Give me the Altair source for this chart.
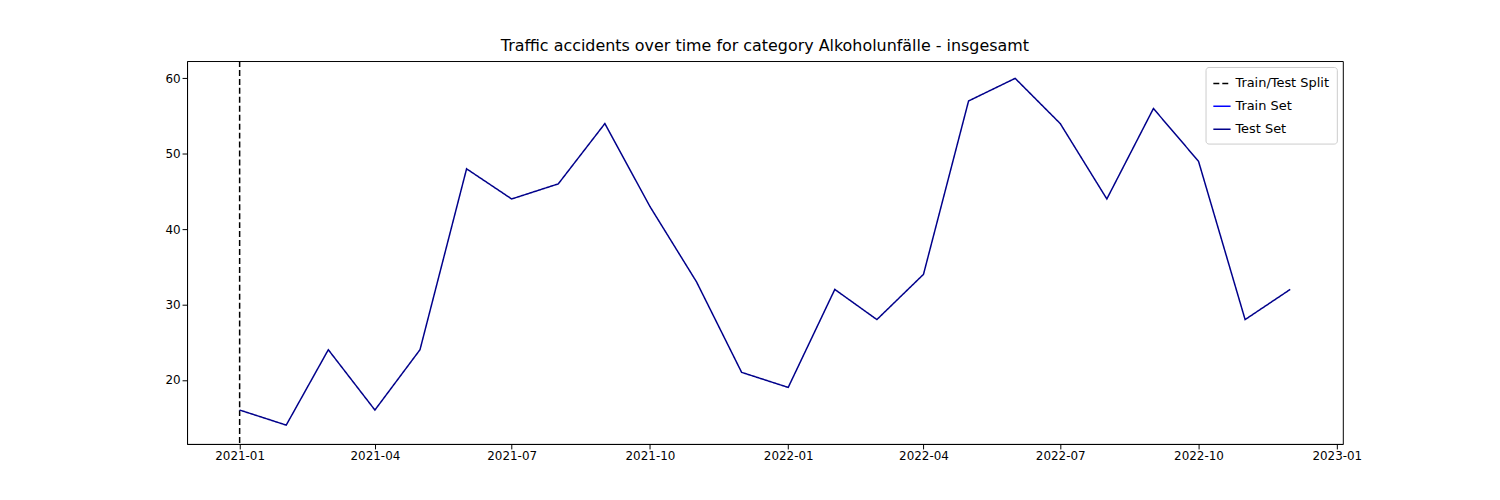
import altair as alt
import pandas as pd

months = pd.date_range("2021-01-01", "2022-12-01", freq="MS").strftime("%Y-%m-%d").tolist()
values = [16,14,24,16,24,48,44,46,54,43,33,21,19,32,28,34,57,60,54,44,56,49,28,32]
split_date = ["2021-01-01"]
tick_dates = ["2021-01-01","2021-04-01","2021-07-01","2021-10-01","2022-01-01","2022-04-01","2022-07-01","2022-10-01","2023-01-01"]
series_names = ["Train/Test Split", "Train Set", "Test Set"]
series_colors = ["black", "blue", "darkblue"]

df = pd.DataFrame({"date": months, "value": values, "series": "Test Set"})
split = pd.DataFrame({"date": split_date, "series": "Train/Test Split"})

color = alt.Color("series:N", scale=alt.Scale(domain=series_names, range=series_colors),
                  legend=alt.Legend(title=None, orient="top-right", symbolType="stroke",
                                    strokeColor="#cccccc", padding=7, cornerRadius=3,
                                    labelFontSize=13, symbolStrokeWidth=1.5, offset=6,
                                    symbolSize=300, rowPadding=6,
                                    fillColor="white", labelFont="DejaVu Sans"))
dash = alt.StrokeDash("series:N", scale=alt.Scale(domain=series_names, range=[[6,3],[1,0],[1,0]]), legend=None)

xs = alt.Scale(domain=["2020-11-27", "2023-01-05"])
xax = alt.Axis(values=tick_dates, format="%Y-%m", grid=False, labelFontSize=12, labelColor="black",
               tickColor="black", domainColor="black", title=None, labelFont="DejaVu Sans", labelAngle=0)
yax = alt.Axis(values=[20,30,40,50,60], grid=False, labelFontSize=12, labelColor="black",
               tickColor="black", domainColor="black", title=None, labelFont="DejaVu Sans")

line = alt.Chart(df).mark_line(strokeWidth=1.5).encode(
    x=alt.X("date:T", scale=xs, axis=xax),
    y=alt.Y("value:Q", scale=alt.Scale(domain=[11.5, 62.3]), axis=yax),
    color=color, strokeDash=dash)
rule = alt.Chart(split).mark_rule(strokeWidth=1.5).encode(
    x=alt.X("date:T", scale=xs), color=color, strokeDash=dash)

chart = alt.layer(rule, line).properties(
    width=1162, height=385,
    view=alt.ViewBackground(stroke="black", strokeWidth=1),
    title=alt.TitleParams("Traffic accidents over time for category Alkoholunfälle - insgesamt",
                          fontSize=16, fontWeight="normal", font="DejaVu Sans", offset=6),
    autosize="none",
    padding={"left": 180, "top": 52, "right": 150, "bottom": 47},
).configure_view(stroke="black").configure(background="white")

chart.save("out.html", embed_options={"renderer": "svg", "actions": False})
